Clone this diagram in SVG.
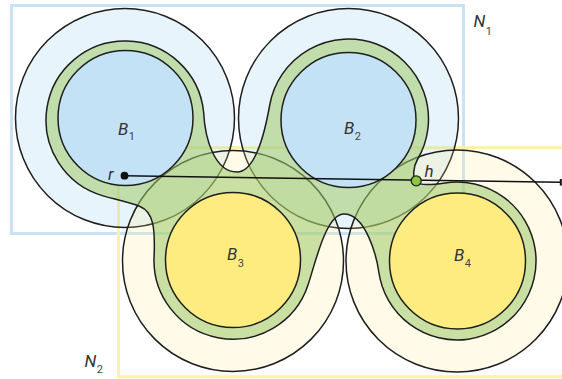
<svg xmlns="http://www.w3.org/2000/svg" width="562" height="379" viewBox="0 0 562 379">
<style>
.frame{fill:none;stroke-width:3}
.rng{stroke:#1e1e1e;stroke-width:1.5}
.rb{fill:rgb(140,200,235);fill-opacity:0.2}
.ry{fill:rgb(255,235,130);fill-opacity:0.18}
.ball{stroke:#1e1e1e;stroke-width:1.5}
.bb{fill:#c4e2f5}
.by{fill:#ffec80}
.lbl{font-family:Roboto,"Liberation Sans",sans-serif;font-weight:400;font-style:italic;font-size:17px;fill:#333}
.sub{font-style:normal;font-size:11px;fill:#444}
</style>
<rect width="562" height="379" fill="#fff"/>
<g id="N1">
<rect class="frame" x="11.5" y="5.5" width="452" height="228" stroke="#c8e4f4"/>
<text class="lbl" x="473.5" y="26.5">N<tspan class="sub" dx="0.5" dy="8.5" font-size="10px">1</tspan></text>
</g>
<g id="N2">
<rect class="frame" x="118.5" y="147.7" width="460" height="229" stroke="#fff1a6"/>
<text class="lbl" x="84.5" y="366.5">N<tspan class="sub" dx="0.5" dy="6" font-size="10px">2</tspan></text>
</g>
<g id="ranges">
<circle class="rng rb" cx="125" cy="118" r="109.5"/>
<circle class="rng rb" cx="348.5" cy="118.5" r="110"/>
<circle class="rng ry" cx="233" cy="261" r="110.5"/>
<circle class="rng ry" cx="457" cy="261" r="111"/>
</g>
<g id="region">
<path d="M 103,195.9 A 79 79 0 1 1 203.6,112 C 205,140 215,172 237,172 C 255,172 264.5,134.5 269.73,105 A 80 80 0 1 1 417.2,160 C 413.1,166.9 412.5,178 416,182 C 420,186 433,184.7 445,182.9 A 79 79 0 1 1 378.8,272 C 376.7,257.1 366,214 344,214 C 326,214 315.9,261.3 308,285 A 79 79 0 0 1 154.16,255 C 155,230 154,212 140,206.5 C 128.8,202.1 112.6,198.7 103,195.9 Z" fill="rgb(158,202,106)" fill-opacity="0.55" stroke="#1e1e1e" stroke-width="1.5"/>
</g>
<g id="B1">
<circle class="ball bb" cx="125.5" cy="118" r="67.5"/>
<text class="lbl" x="118" y="135">B<tspan class="sub" dx="0.5" dy="5">1</tspan></text>
</g>
<g id="B2">
<circle class="ball bb" cx="348.5" cy="120" r="67.5"/>
<text class="lbl" x="344" y="133.5">B<tspan class="sub" dx="0.5" dy="6">2</tspan></text>
</g>
<g id="B3">
<circle class="ball by" cx="233" cy="260" r="67.5"/>
<text class="lbl" x="227" y="260">B<tspan class="sub" dx="0.5" dy="7">3</tspan></text>
</g>
<g id="B4">
<circle class="ball by" cx="457.5" cy="261" r="68"/>
<text class="lbl" x="454" y="260.5">B<tspan class="sub" dx="0.5" dy="6.5">4</tspan></text>
</g>
<g id="connectors">
<line x1="124.5" y1="175.7" x2="561" y2="182.3" stroke="#111" stroke-width="1.5"/>
<line x1="560.8" y1="179" x2="560.8" y2="185.6" stroke="#111" stroke-width="2"/>
<circle cx="124.5" cy="175.7" r="3.9" fill="#111"/>
<circle cx="416.2" cy="180.8" r="5" fill="#8cc63f" stroke="#1e1e1e" stroke-width="1.3"/>
<text class="lbl" x="108" y="180">r</text>
<text class="lbl" x="424.5" y="177">h</text>
</g>
</svg>
